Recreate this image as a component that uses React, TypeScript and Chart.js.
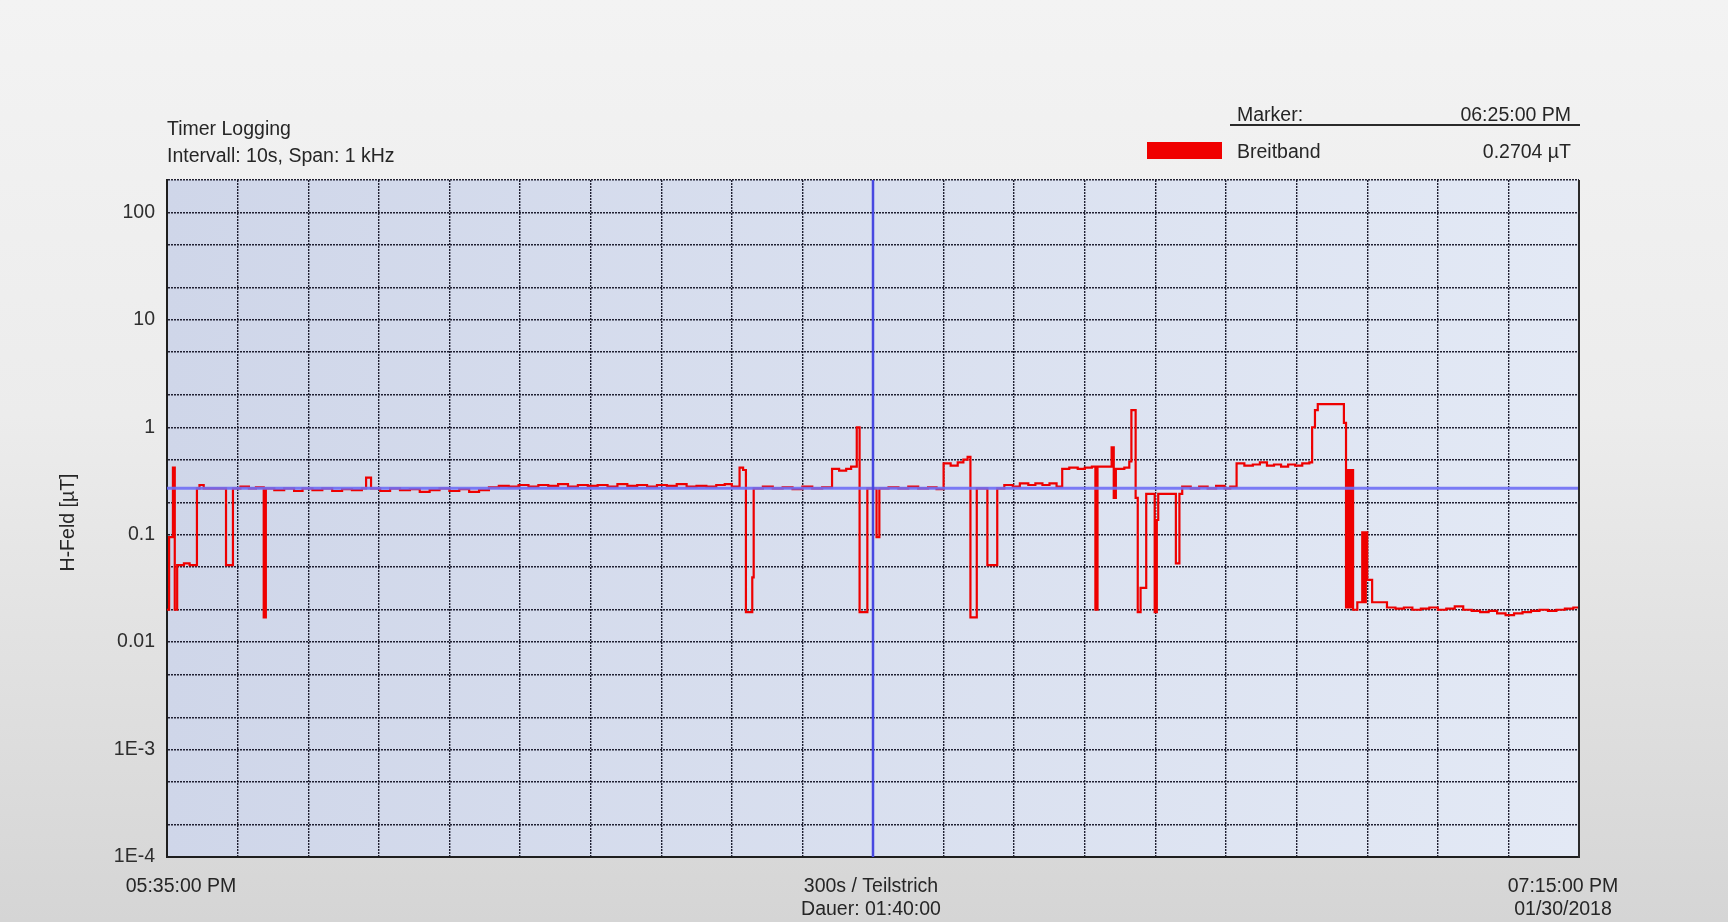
import React, { useEffect, useRef } from "react";
import { Chart, registerables } from "chart.js";

Chart.register(...registerables);

// ---- Data (minutes after 05:35:00 PM, value in µT; each point = value from that time on) ----
const timeMinutes: number[] = [
  0, 0.15, 0.42, 0.55, 0.72, 1.2, 1.6, 2.12, 2.3, 2.6, 3.3, 4.18, 4.67, 5.2, 5.8, 6.3, 6.85, 7.0,
  7.6, 8.3, 9.0, 9.6, 10.3, 11.0, 11.7, 12.4, 13.1, 13.8, 14.1, 14.45, 15.1, 15.8, 16.5, 17.2, 17.9,
  18.6, 19.3, 20.0, 20.7, 21.4, 22.1, 22.8, 23.5, 24.2, 24.9, 25.6, 26.3, 27.0, 27.7, 28.4, 29.1,
  29.8, 30.5, 31.2, 31.9, 32.6, 33.3, 34.0, 34.7, 35.4, 36.1, 36.8, 37.5, 38.2, 38.9, 39.5, 40.0,
  40.55, 40.8, 41.0, 41.45, 41.55, 42.2, 42.9, 43.6, 44.3, 45.0, 45.7, 46.4, 47.1, 47.6, 48.1,
  48.45, 48.85, 49.05, 49.6, 50.25, 50.45, 51.1, 51.8, 52.5, 53.2, 53.9, 54.5, 55.0, 55.5, 56.0,
  56.4, 56.7, 56.9, 57.35, 58.1, 58.8, 59.3, 59.9, 60.4, 61.0, 61.5, 62.0, 62.5, 63.0, 63.4, 63.9,
  64.5, 65.0, 65.5, 65.75, 65.9, 66.9, 67.05, 67.2, 67.8, 68.15, 68.3, 68.6, 68.75, 68.95, 69.35,
  69.95, 70.1, 70.2, 71.45, 71.7, 71.9, 72.5, 73.1, 73.7, 74.3, 74.9, 75.3, 75.75, 76.3, 76.9,
  77.4, 77.9, 78.4, 78.9, 79.4, 79.9, 80.4, 80.9, 81.1, 81.3, 81.5, 83.35, 83.5, 83.6, 83.75,
  83.85, 84.0, 84.3, 84.65, 84.8, 84.9, 85.0, 85.35, 86.4, 87.0, 87.6, 88.2, 88.8, 89.4, 90.0,
  90.6, 91.2, 91.8, 92.4, 93.0, 93.6, 94.2, 94.8, 95.4, 96.0, 96.6, 97.2, 97.8, 98.4, 99.0, 99.6,
  100,
];

const breitbandUT: number[] = [
  0.02, 0.095, 0.42, 0.02, 0.052, 0.054, 0.052, 0.27, 0.29, 0.27, 0.27, 0.052, 0.27, 0.28, 0.27, 0.275, 0.017, 0.27,
  0.26, 0.27, 0.255, 0.27, 0.26, 0.27, 0.255, 0.265, 0.26, 0.27, 0.34, 0.27, 0.255, 0.27, 0.26, 0.265, 0.25,
  0.26, 0.27, 0.255, 0.265, 0.25, 0.26, 0.275, 0.285, 0.28, 0.29, 0.28, 0.29, 0.285, 0.295, 0.28, 0.29,
  0.285, 0.29, 0.28, 0.295, 0.285, 0.29, 0.28, 0.29, 0.285, 0.295, 0.28, 0.285, 0.28, 0.29, 0.295, 0.28,
  0.42, 0.40, 0.019, 0.04, 0.27, 0.28, 0.27, 0.275, 0.265, 0.28, 0.27, 0.275, 0.41, 0.395, 0.41,
  0.43, 1.0, 0.019, 0.27, 0.095, 0.27, 0.275, 0.27, 0.28, 0.27, 0.275, 0.265, 0.46, 0.44, 0.47,
  0.5, 0.53, 0.017, 0.27, 0.052, 0.27, 0.29, 0.28, 0.3, 0.29, 0.3, 0.29, 0.3, 0.28, 0.41, 0.42,
  0.41, 0.42, 0.43, 0.02, 0.43, 0.65, 0.22, 0.41, 0.42, 0.48, 1.44, 0.22, 0.019, 0.032, 0.24,
  0.019, 0.137, 0.24, 0.054, 0.24, 0.28, 0.27, 0.28, 0.27, 0.285, 0.27, 0.28, 0.46, 0.44, 0.45,
  0.47, 0.44, 0.45, 0.43, 0.45, 0.44, 0.46, 0.47, 1.0, 1.44, 1.64, 1.1, 0.021, 0.4, 0.021,
  0.4, 0.02, 0.0235, 0.105, 0.0235, 0.105, 0.038, 0.0235, 0.021, 0.0205, 0.021, 0.02, 0.0205, 0.021, 0.02,
  0.0205, 0.0215, 0.02, 0.0195, 0.019, 0.0195, 0.0185, 0.0178, 0.0185, 0.019, 0.0195, 0.02, 0.0195, 0.02, 0.0205, 0.021,
  0.0205,
];

const yTickValues: number[] = [
  1e-4, 2e-4, 5e-4, 1e-3, 2e-3, 5e-3, 0.01, 0.02, 0.05, 0.1, 0.2, 0.5, 1, 2, 5, 10, 20, 50, 100, 200,
];
const yDecadeValues: number[] = [1e-4, 1e-3, 0.01, 0.1, 1, 10, 100];
const yDecadeLabels: string[] = ["1E-4", "1E-3", "0.01", "0.1", "1", "10", "100"];
const xTickValues: number[] = [0, 5, 10, 15, 20, 25, 30, 35, 40, 45, 50, 55, 60, 65, 70, 75, 80, 85, 90, 95, 100];

const xStartLabel: string[] = ["05:35:00 PM"];
const xMiddleLabel: string[] = ["300s / Teilstrich", "Dauer: 01:40:00"];
const xEndLabel: string[] = ["07:15:00 PM", "01/30/2018"];
const headerLines: string[] = ["Timer Logging", "Intervall: 10s, Span: 1 kHz"];
const yAxisTitle = "H-Feld [µT]";
const seriesName = "Breitband";
const markerTime = 50; // 06:25:00 PM
const markerTimeLabel = "06:25:00 PM";
const markerValue = 0.2704;
const markerValueLabel = "0.2704 µT";

const FONT = '"Liberation Sans", Arial, sans-serif';
const TEXT = "#262626";

const chartDecor = {
  id: "chartDecor",
  beforeDraw(chart: any) {
    const { ctx, chartArea: a } = chart;
    ctx.save();
    const g = ctx.createLinearGradient(a.left, 0, a.right, 0);
    g.addColorStop(0, "#cfd6e9");
    g.addColorStop(1, "#e3e9f5");
    ctx.fillStyle = g;
    ctx.fillRect(a.left, a.top, a.right - a.left, a.bottom - a.top);
    ctx.restore();
  },
  afterDraw(chart: any) {
    const { ctx, chartArea: a, scales } = chart;
    const xs = scales.x;
    ctx.save();
    // right frame line
    ctx.strokeStyle = "#2a2a2a";
    ctx.lineWidth = 2;
    ctx.beginPath();
    ctx.moveTo(a.right, a.top);
    ctx.lineTo(a.right, a.bottom + 1);
    ctx.stroke();

    ctx.font = `19.5px ${FONT}`;
    ctx.fillStyle = TEXT;
    ctx.textBaseline = "alphabetic";

    // header (top left)
    ctx.textAlign = "left";
    ctx.fillText(headerLines[0], a.left, 135);
    ctx.fillText(headerLines[1], a.left, 162);

    // legend / marker box (top right)
    const legL = 1237;
    const legR = 1571;
    ctx.fillText("Marker:", legL, 121);
    ctx.fillText(seriesName, legL, 158);
    ctx.textAlign = "right";
    ctx.fillText(markerTimeLabel, legR, 121);
    ctx.fillText(markerValueLabel, legR, 158);
    ctx.strokeStyle = "#2a2a2a";
    ctx.lineWidth = 2;
    ctx.beginPath();
    ctx.moveTo(1230, 125);
    ctx.lineTo(1580, 125);
    ctx.stroke();
    ctx.fillStyle = "rgb(240,0,0)";
    ctx.fillRect(1147, 142, 75, 17);

    // x labels
    ctx.fillStyle = TEXT;
    ctx.textAlign = "center";
    const x0 = xs.getPixelForValue(0) + 14;
    const x1 = xs.getPixelForValue(50) - 2;
    const x2 = xs.getPixelForValue(100) - 16;
    xStartLabel.forEach((t, i) => ctx.fillText(t, x0, a.bottom + 35 + i * 23));
    xMiddleLabel.forEach((t, i) => ctx.fillText(t, x1, a.bottom + 35 + i * 23));
    xEndLabel.forEach((t, i) => ctx.fillText(t, x2, a.bottom + 35 + i * 23));

    // y axis title
    ctx.translate(69, (a.top + a.bottom) / 2 + 4);
    ctx.rotate(-Math.PI / 2);
    ctx.textBaseline = "middle";
    ctx.fillText(yAxisTitle, 0, 0);
    ctx.restore();
  },
};

export default function App() {
  const ref = useRef<HTMLCanvasElement>(null);

  useEffect(() => {
    const points = timeMinutes.map((t, i) => ({ x: t, y: breitbandUT[i] }));
    const gridCommon = {
      color: "rgba(22,22,40,0.95)",
      lineWidth: 1.4,
      drawTicks: false,
    };
    const chart = new Chart(ref.current as HTMLCanvasElement, {
      type: "line",
      data: {
        datasets: [
          {
            label: "Marker Zeit",
            data: [
              { x: markerTime, y: 1e-4 },
              { x: markerTime, y: 200 },
            ],
            borderColor: "rgb(72,72,225)",
            borderWidth: 2.5,
            pointRadius: 0,
            order: 0,
          },
          {
            label: "Marker Wert",
            data: [
              { x: 0, y: markerValue },
              { x: 100, y: markerValue },
            ],
            borderColor: "rgba(110,110,245,0.9)",
            borderWidth: 3,
            pointRadius: 0,
            order: 1,
          },
          {
            label: seriesName,
            data: points,
            borderColor: "rgb(238,0,0)",
            borderWidth: 2.2,
            pointRadius: 0,
            stepped: true,
            tension: 0,
            order: 2,
          },
        ],
      },
      options: {
        responsive: false,
        animation: false,
        events: [],
        layout: { padding: { left: 0, top: 180, right: 149, bottom: 65 } },
        plugins: { legend: { display: false }, tooltip: { enabled: false } },
        scales: {
          x: {
            type: "linear",
            min: 0,
            max: 100,
            afterBuildTicks: (s: any) => {
              s.ticks = xTickValues.map((v) => ({ value: v }));
            },
            afterFit: (s: any) => {
              s.height = 0;
            },
            ticks: { display: false, autoSkip: false },
            grid: gridCommon,
            border: { display: true, color: "#1e1e1e", width: 2, dash: [2, 1] },
          },
          y: {
            type: "logarithmic",
            min: 1e-4,
            max: 200,
            afterBuildTicks: (s: any) => {
              s.ticks = yTickValues.map((v) => ({ value: v }));
            },
            afterFit: (s: any) => {
              s.width = 167;
            },
            ticks: {
              autoSkip: false,
              padding: 12,
              color: "#2e2e2e",
              font: { family: FONT, size: 19.5 },
              callback: (v: any) => {
                const idx = yDecadeValues.findIndex((d) => Math.abs(d - Number(v)) / d < 1e-6);
                return idx >= 0 ? yDecadeLabels[idx] : "";
              },
            },
            grid: gridCommon,
            border: { display: true, color: "#1e1e1e", width: 2, dash: [2, 1] },
          },
        },
      },
      plugins: [chartDecor],
    } as any);
    return () => chart.destroy();
  }, []);

  return (
    <div
      style={{
        position: "fixed",
        left: 0,
        top: 0,
        width: 1728,
        height: 922,
        background: "linear-gradient(to bottom, #f3f3f3 0%, #ececec 45%, #d5d5d5 100%)",
      }}
    >
      <canvas ref={ref} width={1728} height={922} style={{ display: "block" }} />
    </div>
  );
}
